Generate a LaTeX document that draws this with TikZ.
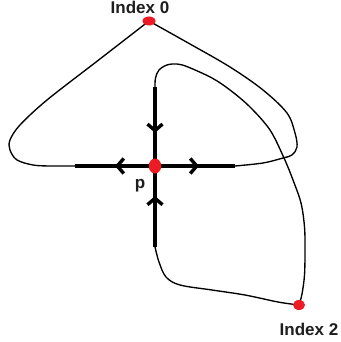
\documentclass[tikz,border=0pt]{standalone}
\usepackage{fontspec}
\setmainfont{Liberation Sans}
\usetikzlibrary{arrows.meta,decorations.markings,shapes.geometric}
\definecolor{dotred}{RGB}{237,28,36}
\definecolor{labelgray}{RGB}{30,30,30}
\begin{document}
\begin{tikzpicture}[x=1pt,y=-1pt,
  thin curve/.style={line width=1.35pt,black},
  thickline/.style={line width=4.5pt,black},
  midarrow/.style={postaction={decorate},decoration={markings,
      mark=at position #1 with {\arrow[line width=3.4pt]{Straight Barb[length=6.5pt,width=15pt]}}}},
  dot/.style={ellipse,fill=dotred,inner sep=0pt},
  lbl/.style={font=\fontsize{17}{19}\selectfont\bfseries,text=labelgray,inner sep=0pt,anchor=base}
]
\useasboundingbox (0,0) rectangle (340,342);
% points
\coordinate (top) at (155,87);
\coordinate (bot) at (155,247);
\coordinate (lft) at (75,166);
\coordinate (rgt) at (235,166);
\coordinate (pc) at (155,166);
\coordinate (i0c) at (149,21);
\coordinate (i2c) at (299,305);
% loop through Index 0
\draw[thin curve] plot[smooth,tension=0.55] coordinates
  {(lft) (50,166) (33,165) (17,160) (10,150) (10,140) (20,125) (47,100) (98,60.5) (i0c)};
\draw[thin curve] plot[smooth,tension=0.55] coordinates
  {(i0c) (190,44) (230,67) (263,90) (287,113) (295,133) (297,147) (292,155) (283,158) (263,163) (rgt)};
% loop through Index 2
\draw[thin curve] plot[smooth,tension=0.55] coordinates
  {(top) (155.5,78) (159,70) (167,65) (177,64) (188,67) (212,78) (230,90) (250,107) (270,130) (284,158) (293,180) (301,203) (304.5,227) (305,250) (304.5,275) (302,294) (i2c)};
\draw[thin curve] plot[smooth,tension=0.55] coordinates
  {(i2c) (278,302) (245,295) (212,290) (180,285) (166,277) (159,262) (bot)};
% thick cross with arrows
\draw[thickline,midarrow=0.58] (top) -- (pc);
\draw[thickline,midarrow=0.63] (bot) -- (pc);
\draw[thickline,midarrow=0.5] (pc) -- (lft);
\draw[thickline,midarrow=0.55] (pc) -- (rgt);
% dots
\node[dot,minimum width=13pt,minimum height=9pt] (i0) at (i0c) {};
\node[dot,minimum width=12.5pt,minimum height=15pt] (p) at (pc) {};
\node[dot,minimum width=12pt,minimum height=10pt] (i2) at (i2c) {};
% labels
\node[lbl] (l0) at (140,14) {Index 0};
\node[lbl] (lp) at (140,188.5) {p};
\node[lbl] (l2) at (309,335) {Index 2};
\end{tikzpicture}
\end{document}
